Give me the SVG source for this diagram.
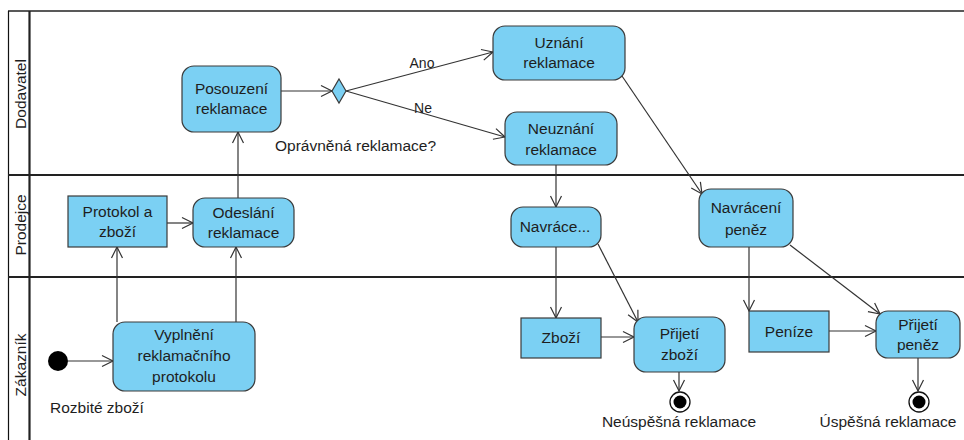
<svg xmlns="http://www.w3.org/2000/svg" width="964" height="440" viewBox="0 0 964 440">
<style>
text{font-family:"Liberation Sans",Arial,sans-serif;font-size:15.5px;fill:#1e1e1e}
.c{text-anchor:middle}
.act{fill:#7BD0F3;stroke:#3a3a3a;stroke-width:1.2}
.ln{stroke:#333;stroke-width:1.2;fill:none}
.lane{stroke:#222;stroke-width:2.2;fill:none}
.lab{font-size:14px}
</style>
<defs>
<marker id="a" markerUnits="userSpaceOnUse" markerWidth="14" markerHeight="14" viewBox="0 0 14 14" refX="12" refY="7" orient="auto">
<path d="M1,1.5 L12,7 L1,12.5" fill="none" stroke="#333" stroke-width="1.2"/>
</marker>
</defs>
<rect width="964" height="440" fill="#fff"/>
<g id="swimlanes">
<line class="lane" x1="8" y1="11" x2="964" y2="11" style="stroke-width:1.6"/>
<line x1="8.5" y1="11" x2="8.5" y2="440" stroke="#111" stroke-width="1.2"/>
<line class="lane" x1="29.5" y1="11" x2="29.5" y2="440"/>
<line class="lane" x1="8" y1="175" x2="964" y2="175"/>
<line class="lane" x1="8" y1="277" x2="964" y2="277"/>
<text class="c" transform="translate(26,94) rotate(-90)">Dodavatel</text>
<text class="c" transform="translate(26,225) rotate(-90)">Prodejce</text>
<text class="c" transform="translate(26,365) rotate(-90)">Zákazník</text>
</g>
<g id="connectors">
<line class="ln" x1="68" y1="361" x2="113" y2="361" marker-end="url(#a)"/>
<line class="ln" x1="117" y1="322" x2="117" y2="247" marker-end="url(#a)"/>
<line class="ln" x1="236" y1="322" x2="236" y2="247" marker-end="url(#a)"/>
<line class="ln" x1="167" y1="223" x2="193" y2="223" marker-end="url(#a)"/>
<line class="ln" x1="238" y1="198" x2="238" y2="132" marker-end="url(#a)"/>
<line class="ln" x1="281" y1="91" x2="332" y2="91" marker-end="url(#a)"/>
<line class="ln" x1="346" y1="91" x2="493" y2="52" marker-end="url(#a)"/>
<line class="ln" x1="346" y1="91" x2="505" y2="137" marker-end="url(#a)"/>
<line class="ln" x1="622" y1="76" x2="702" y2="194" marker-end="url(#a)"/>
<line class="ln" x1="556" y1="165" x2="556" y2="207" marker-end="url(#a)"/>
<line class="ln" x1="556" y1="247" x2="556" y2="318" marker-end="url(#a)"/>
<line class="ln" x1="598" y1="244" x2="638" y2="322" marker-end="url(#a)"/>
<line class="ln" x1="601" y1="337" x2="634" y2="337" marker-end="url(#a)"/>
<line class="ln" x1="679" y1="372" x2="679" y2="391" marker-end="url(#a)"/>
<line class="ln" x1="749" y1="247" x2="749" y2="311" marker-end="url(#a)"/>
<line class="ln" x1="790" y1="245" x2="880" y2="314" marker-end="url(#a)"/>
<line class="ln" x1="829" y1="331" x2="876" y2="331" marker-end="url(#a)"/>
<line class="ln" x1="918" y1="358" x2="918" y2="391" marker-end="url(#a)"/>
<text class="c lab" x="422" y="68">Ano</text>
<text class="c lab" x="423" y="113">Ne</text>
</g>
<g id="start">
<circle cx="58" cy="361" r="10" fill="#000"/>
<text x="50" y="413">Rozbité zboží</text>
</g>
<g id="vyplneni">
<rect class="act" x="113" y="322" width="142" height="69" rx="12"/>
<text class="c" x="184" y="340">Vyplnění</text>
<text class="c" x="184" y="361">reklamačního</text>
<text class="c" x="184" y="382">protokolu</text>
</g>
<g id="protokol">
<rect class="act" x="68" y="196" width="99" height="51"/>
<text class="c" x="117.5" y="217">Protokol a</text>
<text class="c" x="117.5" y="237">zboží</text>
</g>
<g id="odeslani">
<rect class="act" x="193" y="198" width="101" height="49" rx="12"/>
<text class="c" x="243.5" y="218">Odeslání</text>
<text class="c" x="243.5" y="238">reklamace</text>
</g>
<g id="posouzeni">
<rect class="act" x="182" y="66" width="99" height="66" rx="12"/>
<text class="c" x="231.5" y="94">Posouzení</text>
<text class="c" x="231.5" y="114">reklamace</text>
</g>
<g id="decision">
<polygon class="act" points="339,79 346,91 339,103 332,91"/>
<text x="275" y="151">Oprávněná reklamace?</text>
</g>
<g id="uznani">
<rect class="act" x="493" y="26" width="132" height="54" rx="12"/>
<text class="c" x="559" y="48">Uznání</text>
<text class="c" x="559" y="68">reklamace</text>
</g>
<g id="neuznani">
<rect class="act" x="505" y="112" width="112" height="53" rx="12"/>
<text class="c" x="561" y="134">Neuznání</text>
<text class="c" x="561" y="155">reklamace</text>
</g>
<g id="navraceni-zbozi">
<rect class="act" x="511" y="207" width="90" height="40" rx="12"/>
<text class="c" x="555" y="232">Navráce...</text>
</g>
<g id="zbozi">
<rect class="act" x="521" y="318" width="80" height="40"/>
<text class="c" x="561" y="343">Zboží</text>
</g>
<g id="prijeti-zbozi">
<rect class="act" x="634" y="317" width="91" height="55" rx="12"/>
<text class="c" x="679.5" y="339">Přijetí</text>
<text class="c" x="679.5" y="360">zboží</text>
</g>
<g id="end-fail">
<circle cx="680" cy="402" r="10" fill="#fff" stroke="#111" stroke-width="1.3"/>
<circle cx="680" cy="402" r="6.5" fill="#000"/>
<text class="c" x="679" y="427">Neúspěšná reklamace</text>
</g>
<g id="navraceni-penez">
<rect class="act" x="699" y="189" width="94" height="58" rx="12"/>
<text class="c" x="746" y="213">Navrácení</text>
<text class="c" x="746" y="235">peněz</text>
</g>
<g id="penize">
<rect class="act" x="749" y="311" width="80" height="41"/>
<text class="c" x="789" y="337">Peníze</text>
</g>
<g id="prijeti-penez">
<rect class="act" x="876" y="311" width="84" height="47" rx="12"/>
<text class="c" x="918" y="330">Přijetí</text>
<text class="c" x="918" y="350">peněz</text>
</g>
<g id="end-ok">
<circle cx="919" cy="402" r="10" fill="#fff" stroke="#111" stroke-width="1.3"/>
<circle cx="919" cy="402" r="6.5" fill="#000"/>
<text class="c" x="888" y="427">Úspěšná reklamace</text>
</g>
</svg>
